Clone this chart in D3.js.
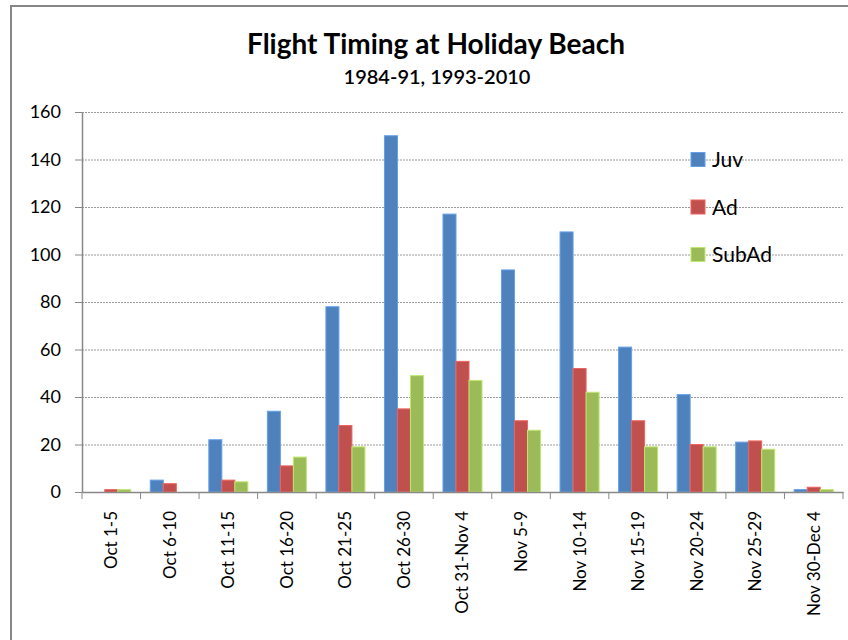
<!DOCTYPE html>
<html>
<head>
<meta charset="utf-8">
<script src="https://cdn.jsdelivr.net/npm/d3@7"></script>
<style>
  body { margin: 0; background: #fff; }
  text { font-family: Lato, "Liberation Sans", sans-serif; fill: #000; }
</style>
</head>
<body>
<svg id="chart" width="848" height="640"></svg>
<script>
// periods along the x axis
const periods = ["Oct 1-5", "Oct 6-10", "Oct 11-15", "Oct 16-20", "Oct 21-25", "Oct 26-30",
  "Oct 31-Nov 4", "Nov 5-9", "Nov 10-14", "Nov 15-19", "Nov 20-24", "Nov 25-29", "Nov 30-Dec 4"];

const seriesNames = ["Juv", "Ad", "SubAd"];
const juv   = [0, 5, 22, 34, 78, 150, 117, 93.5, 109.5, 61, 41, 21, 1];
const ad    = [1, 3.5, 5, 11, 28, 35, 55, 30, 52, 30, 20, 21.5, 2];
const subAd = [1, 0, 4.3, 14.7, 19, 49, 47, 26, 42, 19, 19, 18, 1];
const yTicks = [0, 20, 40, 60, 80, 100, 120, 140, 160];
const colors = ["#4F81BD", "#C0504D", "#9BBB59"];

const allSeries = [juv, ad, subAd];

const svg = d3.select("#chart");

// outer chart frame (only top and left show in the picture)
svg.append("rect")
   .attr("x", 11).attr("y", 6)
   .attr("width", 860).attr("height", 660)
   .attr("fill", "none")
   .attr("stroke", "#878787")
   .attr("stroke-width", 2);

const margin = { left: 82, top: 112, right: 843, bottom: 492 };

const x = d3.scaleBand()
            .domain(periods)
            .range([margin.left, margin.right])
            .paddingInner(0)
            .paddingOuter(0);

// 3 bars + gap of 1.5 bar widths (Excel gap width 150%)
const x1 = d3.scaleBand()
             .domain(seriesNames)
             .range([0, x.bandwidth()])
             .paddingOuter(0.75)
             .paddingInner(0);

const y = d3.scaleLinear()
            .domain([0, 160])
            .range([margin.bottom, margin.top]);

// gridlines
svg.append("g")
   .selectAll("line")
   .data(yTicks.filter(d => d > 0))
   .enter().append("line")
   .attr("x1", margin.left).attr("x2", margin.right)
   .attr("y1", d => y(d) + 0.5).attr("y2", d => y(d) + 0.5)
   .attr("stroke", "#9a9a9a")
   .attr("stroke-width", 1)
   .attr("stroke-dasharray", "2,1");

// bars
const groups = svg.append("g")
   .selectAll("g")
   .data(periods)
   .enter().append("g")
   .attr("transform", d => `translate(${x(d)},0)`);

groups.selectAll("rect")
   .data((p, i) => seriesNames.map((s, k) => ({ s: s, k: k, v: allSeries[k][i] })))
   .enter().append("rect")
   .filter(d => d.v > 0)
   .attr("x", d => x1(d.s))
   .attr("y", d => y(d.v))
   .attr("width", x1.bandwidth())
   .attr("height", d => y(0) - y(d.v))
   .attr("fill", d => colors[d.k])
   .attr("stroke", d => d3.color(colors[d.k]).brighter(0.6))
   .attr("stroke-width", 1);

// y axis
const yAxis = svg.append("g")
   .attr("transform", `translate(${margin.left},0)`)
   .call(d3.axisLeft(y).tickValues(yTicks).tickSize(7).tickSizeOuter(0).tickPadding(14));
yAxis.select(".domain").attr("stroke", "#888").attr("stroke-width", 1.5);
yAxis.selectAll(".tick line").attr("stroke", "#888");
yAxis.selectAll("text").style("font-size", "18px").attr("fill", "#111");

// x axis
const xAxis = svg.append("g")
   .attr("transform", `translate(0,${margin.bottom})`)
   .call(d3.axisBottom(x).tickSize(0).tickSizeOuter(0));
xAxis.select(".domain").attr("stroke", "#888").attr("stroke-width", 1.5);
// tick marks on category boundaries
xAxis.selectAll(".sep")
   .data(periods.concat(["end"]))
   .enter().append("line")
   .attr("class", "sep")
   .attr("x1", (d, i) => margin.left + i * x.bandwidth())
   .attr("x2", (d, i) => margin.left + i * x.bandwidth())
   .attr("y1", 0).attr("y2", 7)
   .attr("stroke", "#888");
xAxis.selectAll(".tick text")
   .style("font-size", "17px")
   .attr("fill", "#111")
   .attr("text-anchor", "end")
   .attr("dy", "0.35em")
   .attr("transform", "translate(0,19) rotate(-90)")
   .attr("x", 0).attr("y", 0);

// title
svg.append("text")
   .attr("x", 436).attr("y", 54)
   .attr("text-anchor", "middle")
   .style("font-size", "28px")
   .style("font-weight", "bold")
   .text("Flight Timing at Holiday Beach");
svg.append("text")
   .attr("x", 437).attr("y", 84)
   .attr("text-anchor", "middle")
   .style("font-size", "20px")
   .style("font-weight", "600")
   .text("1984-91, 1993-2010");

// legend
const legend = svg.append("g")
   .selectAll("g")
   .data(seriesNames)
   .enter().append("g")
   .attr("transform", (d, i) => `translate(691,${y(140 - i * 20) - 7})`);
legend.append("rect")
   .attr("width", 14).attr("height", 14)
   .attr("fill", (d, i) => colors[i])
   .attr("stroke", (d, i) => d3.color(colors[i]).brighter(0.6));
legend.append("text")
   .attr("x", 21).attr("y", 7)
   .attr("dy", "0.36em")
   .style("font-size", "21px")
   .text(d => d);
</script>
</body>
</html>
